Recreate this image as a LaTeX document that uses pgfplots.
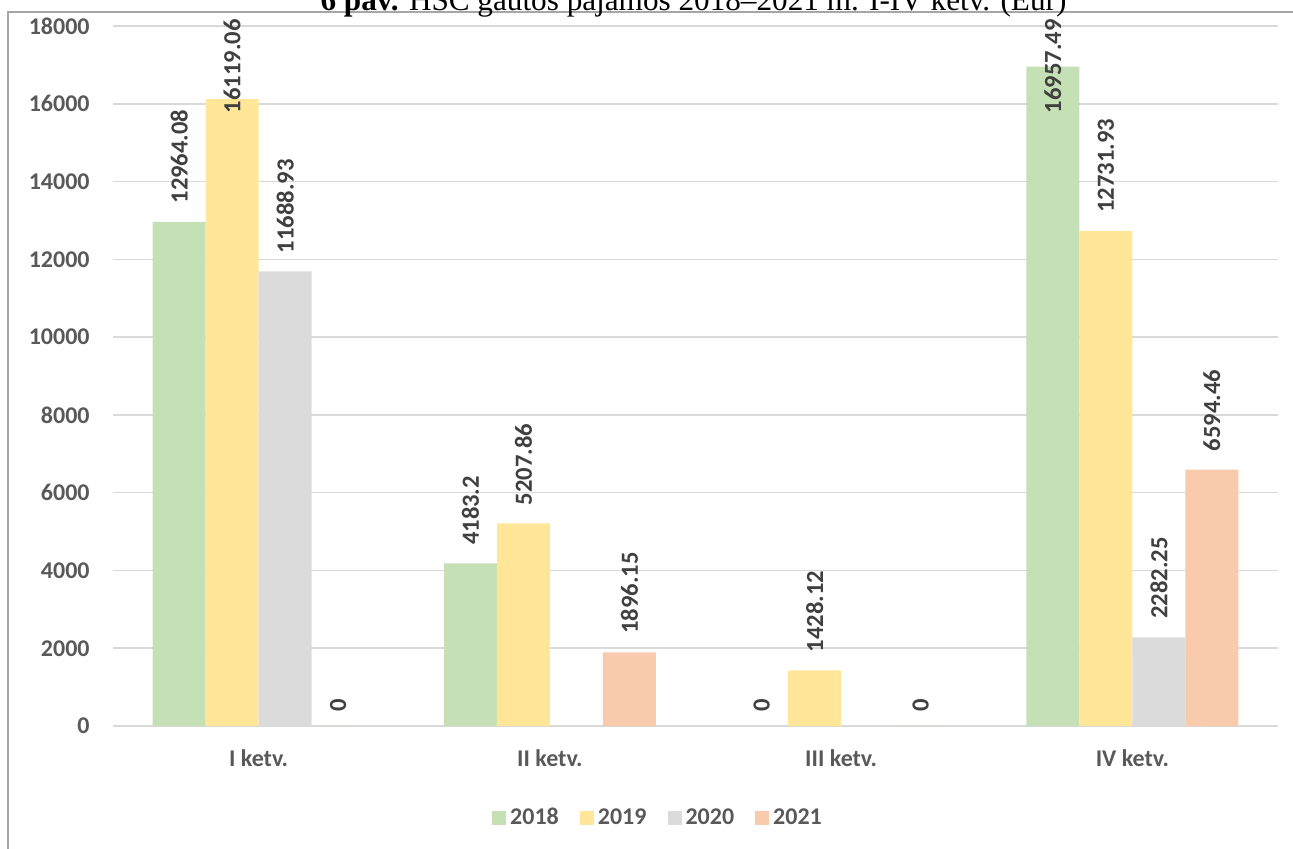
\documentclass[border=0pt]{standalone}
\usepackage{pgfplots}
\pgfplotsset{compat=1.18}
\usepackage{pgfplotstable}
\usepackage{fontspec}
\setmainfont{Carlito}
\newfontfamily\titlefont{Liberation Serif}

\definecolor{c18}{HTML}{C5E0B4}
\definecolor{c19}{HTML}{FFE699}
\definecolor{c20}{HTML}{DBDBDB}
\definecolor{c21}{HTML}{F8CBAD}
\definecolor{gridgray}{HTML}{D9D9D9}
\definecolor{tickgray}{HTML}{595959}
\definecolor{labgray}{HTML}{404040}
\definecolor{framegray}{HTML}{A6A6A6}

\newcommand\chartfont{\fontsize{12}{14}\selectfont\bfseries}
\newcommand\labfont{\fontsize{12.3}{14}\selectfont\bfseries}

% x = quarter (0..3), y = value, off = label gap in pt
\pgfplotstableread{
x y off
0 12964.08 9
1 4183.2 9
2 0 7
3 16957.49 -23.5
}\tabA
\pgfplotstableread{
x y off
0 16119.06 -7.2
1 5207.86 9
2 1428.12 9
3 12731.93 9
}\tabB
% 2020: no entries for II and III ketv.
\pgfplotstableread{
x y off
0 11688.93 9
3 2282.25 9
}\tabC
\pgfplotstableread{
x y off
0 0 7
1 1896.15 9
2 0 7
3 6594.46 9
}\tabD

\begin{document}
\begin{tikzpicture}
\useasboundingbox (0,0) rectangle (646.5pt,-424pt);
\draw[framegray, line width=1pt] (4pt,-6pt) rectangle (660pt,-440pt);
\node[anchor=base, inner sep=0pt, font=\titlefont\fontsize{15.6}{18}\selectfont]
  at (346.75pt,-5.25pt) {\textbf{6 pav.} HSC gautos pajamos 2018–2021 m. I-IV ketv. (Eur)};

\begin{axis}[
  at={(56.5pt,-363pt)}, anchor=south west,
  scale only axis, width=582.5pt, height=350pt,
  ybar=0pt, bar width=0.182,
  xmin=-0.5, xmax=3.5, ymin=0, ymax=18000,
  xtick={0,1,2,3},
  xticklabels={I ketv.,II ketv.,III ketv.,IV ketv.},
  ytick distance=2000,
  scaled y ticks=false,
  /pgf/number format/1000 sep={},
  /pgf/number format/assume math mode=true,
  ymajorgrids,
  grid style={gridgray, line width=0.75pt},
  axis line style={draw=none},
  major tick length=0pt,
  tick label style={font=\chartfont, text=tickgray, inner sep=0pt},
  yticklabel style={anchor=east, xshift=-11.5pt},
  xticklabel style={anchor=north, yshift=-11.5pt},
  point meta=explicit symbolic,
  nodes near coords={\pgfplotspointmeta},
  visualization depends on={\thisrow{off} \as \off},
  every node near coord/.append style={font=\labfont, text=labgray,
    inner sep=0pt, anchor=west, rotate=90, xshift=\off pt},
  legend style={at={(0.4687,-0.131)}, anchor=center, draw=none, fill=none,
    legend columns=-1, font=\chartfont, text=tickgray,
    /tikz/every even column/.append style={column sep=8.5pt}},
  legend image code/.code={\fill[#1] (0pt,-3.5pt) rectangle (7pt,3.5pt);},
]
\addplot[fill=c18, draw=none] table[x=x, y=y, meta=y] {\tabA};
\addlegendentry{2018}
\addplot[fill=c19, draw=none] table[x=x, y=y, meta=y] {\tabB};
\addlegendentry{2019}
\addplot[fill=c20, draw=none] table[x=x, y=y, meta=y] {\tabC};
\addlegendentry{2020}
\addplot[fill=c21, draw=none] table[x=x, y=y, meta=y] {\tabD};
\addlegendentry{2021}
\end{axis}
\end{tikzpicture}
\end{document}
